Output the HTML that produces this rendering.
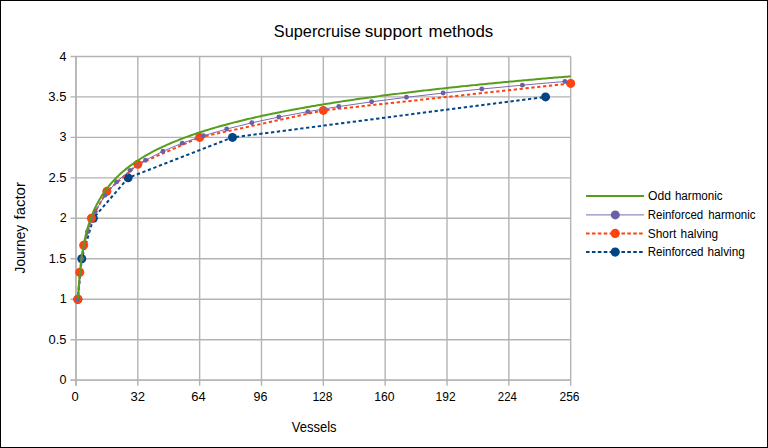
<!DOCTYPE html>
<html><head><meta charset="utf-8"><title>Supercruise support methods</title>
<style>
html,body{margin:0;padding:0;background:#fff;}
.wrap{position:relative;width:768px;height:448px;overflow:hidden;background:#fff;}
svg{position:absolute;left:0;top:0;display:block;}
.frame{position:absolute;left:0;top:0;width:766px;height:446px;border:1px solid #000;}
</style></head><body>
<div class="wrap">
<svg width="768" height="448" viewBox="0 0 768 448">
<g stroke="#b3b3b3" stroke-width="1.4" fill="none"><line x1="70.5" y1="380.14" x2="570.68" y2="380.14"/><line x1="70.5" y1="339.68" x2="570.68" y2="339.68"/><line x1="70.5" y1="299.22" x2="570.68" y2="299.22"/><line x1="70.5" y1="258.76" x2="570.68" y2="258.76"/><line x1="70.5" y1="218.3" x2="570.68" y2="218.3"/><line x1="70.5" y1="177.84" x2="570.68" y2="177.84"/><line x1="70.5" y1="137.38" x2="570.68" y2="137.38"/><line x1="70.5" y1="96.92" x2="570.68" y2="96.92"/><line x1="70.5" y1="56.46" x2="570.68" y2="56.46"/><line x1="75.96" y1="56.46" x2="75.96" y2="385.7"/><line x1="137.8" y1="56.46" x2="137.8" y2="385.7"/><line x1="199.64" y1="56.46" x2="199.64" y2="385.7"/><line x1="261.48" y1="56.46" x2="261.48" y2="385.7"/><line x1="323.32" y1="56.46" x2="323.32" y2="385.7"/><line x1="385.16" y1="56.46" x2="385.16" y2="385.7"/><line x1="447" y1="56.46" x2="447" y2="385.7"/><line x1="508.84" y1="56.46" x2="508.84" y2="385.7"/><line x1="570.68" y1="56.46" x2="570.68" y2="385.7"/><line x1="75.96" y1="56.46" x2="75.96" y2="385.7"/><line x1="70.5" y1="380.14" x2="570.68" y2="380.14"/></g>
<g stroke="#004586" stroke-width="2" stroke-dasharray="3.3 2.59"><line x1="77.89" y1="299.22" x2="81.76" y2="258.76" stroke-dashoffset="2.69"/><line x1="81.76" y1="258.76" x2="93.35" y2="218.3" stroke-dashoffset="2.65"/><line x1="93.35" y1="218.3" x2="128.14" y2="177.84" stroke-dashoffset="3.03"/><line x1="128.14" y1="177.84" x2="232.49" y2="137.38" stroke-dashoffset="2.41"/><line x1="232.49" y1="137.38" x2="545.56" y2="96.92" stroke-dashoffset="2.43"/></g>
<g fill="#004586"><circle cx="77.89" cy="299.22" r="4.5"/><circle cx="81.76" cy="258.76" r="4.5"/><circle cx="93.35" cy="218.3" r="4.5"/><circle cx="128.14" cy="177.84" r="4.5"/><circle cx="232.49" cy="137.38" r="4.5"/><circle cx="545.56" cy="96.92" r="4.5"/></g>
<polyline points="77.89,299.22 79.82,272.25 83.69,245.27 91.42,218.3 106.88,191.33 137.8,164.35 199.64,137.38 323.32,110.41 570.68,83.43" fill="none" stroke="#ff420e" stroke-width="2" stroke-dasharray="3.3 2.59" stroke-dashoffset="1.79"/>
<g fill="#ff420e"><circle cx="77.89" cy="299.22" r="4.5"/><circle cx="79.82" cy="272.25" r="4.5"/><circle cx="83.69" cy="245.27" r="4.5"/><circle cx="91.42" cy="218.3" r="4.5"/><circle cx="106.88" cy="191.33" r="4.5"/><circle cx="137.8" cy="164.35" r="4.5"/><circle cx="199.64" cy="137.38" r="4.5"/><circle cx="323.32" cy="110.41" r="4.5"/><circle cx="570.68" cy="83.43" r="4.5"/></g>
<polyline points="77.89,299.22 81.76,258.76 87.55,231.79 95.28,211.56 104.95,195.37 116.54,181.89 130.07,170.33 145.53,160.21 162.92,151.22 182.25,143.13 203.5,135.77 226.69,129.03 251.82,122.8 278.87,117.02 307.86,111.63 338.78,106.57 371.63,101.81 406.42,97.32 443.13,93.06 481.79,89.01 522.37,85.16 564.88,81.48" fill="none" stroke="#7b6db0" stroke-width="1"/>
<g fill="#6c5fa8"><circle cx="77.89" cy="299.22" r="2.45"/><circle cx="81.76" cy="258.76" r="2.45"/><circle cx="87.55" cy="231.79" r="2.45"/><circle cx="95.28" cy="211.56" r="2.45"/><circle cx="104.95" cy="195.37" r="2.45"/><circle cx="116.54" cy="181.89" r="2.45"/><circle cx="130.07" cy="170.33" r="2.45"/><circle cx="145.53" cy="160.21" r="2.45"/><circle cx="162.92" cy="151.22" r="2.45"/><circle cx="182.25" cy="143.13" r="2.45"/><circle cx="203.5" cy="135.77" r="2.45"/><circle cx="226.69" cy="129.03" r="2.45"/><circle cx="251.82" cy="122.8" r="2.45"/><circle cx="278.87" cy="117.02" r="2.45"/><circle cx="307.86" cy="111.63" r="2.45"/><circle cx="338.78" cy="106.57" r="2.45"/><circle cx="371.63" cy="101.81" r="2.45"/><circle cx="406.42" cy="97.32" r="2.45"/><circle cx="443.13" cy="93.06" r="2.45"/><circle cx="481.79" cy="89.01" r="2.45"/><circle cx="522.37" cy="85.16" r="2.45"/><circle cx="564.88" cy="81.48" r="2.45"/></g>
<polyline points="77.89,299.22 79.82,272.25 81.76,256.06 83.69,244.5 85.62,235.51 87.55,228.16 89.49,221.93 91.42,216.54 93.35,211.78 95.28,207.52 97.22,203.66 99.15,200.15 101.08,196.91 103.01,193.91 104.95,191.12 106.88,188.51 108.81,186.06 110.75,183.75 112.68,181.56 114.61,179.48 116.54,177.51 118.47,175.63 120.41,173.83 122.34,172.11 124.27,170.46 126.2,168.87 128.14,167.34 130.07,165.87 132,164.45 133.94,163.08 135.87,161.76 137.8,160.47 139.73,159.23 141.66,158.02 143.6,156.85 145.53,155.71 147.46,154.6 149.39,153.52 151.33,152.47 153.26,151.44 155.19,150.44 157.12,149.47 159.06,148.52 160.99,147.59 162.92,146.68 164.86,145.79 166.79,144.92 168.72,144.07 170.65,143.23 172.58,142.42 174.52,141.61 176.45,140.83 178.38,140.06 180.31,139.3 182.25,138.56 184.18,137.83 186.11,137.11 188.05,136.41 189.98,135.72 191.91,135.04 193.84,134.37 195.78,133.71 197.71,133.06 199.64,132.43 201.57,131.8 203.5,131.18 205.44,130.57 207.37,129.97 209.3,129.38 211.24,128.8 213.17,128.23 215.1,127.66 217.03,127.1 218.96,126.55 220.9,126.01 222.83,125.47 224.76,124.95 226.69,124.42 228.63,123.91 230.56,123.4 232.49,122.9 234.43,122.4 236.36,121.91 238.29,121.43 240.22,120.95 242.16,120.47 244.09,120.01 246.02,119.54 247.95,119.09 249.88,118.63 251.82,118.19 253.75,117.74 255.68,117.31 257.62,116.87 259.55,116.45 261.48,116.02 263.41,115.6 265.35,115.19 267.28,114.78 269.21,114.37 271.14,113.97 273.07,113.57 275.01,113.18 276.94,112.78 278.87,112.4 280.81,112.01 282.74,111.63 284.67,111.26 286.6,110.88 288.54,110.51 290.47,110.15 292.4,109.79 294.33,109.43 296.26,109.07 298.2,108.72 300.13,108.37 302.06,108.02 304,107.67 305.93,107.33 307.86,106.99 309.79,106.66 311.73,106.33 313.66,106 315.59,105.67 317.52,105.34 319.45,105.02 321.39,104.7 323.32,104.38 325.25,104.07 327.19,103.76 329.12,103.45 331.05,103.14 332.98,102.83 334.92,102.53 336.85,102.23 338.78,101.93 340.71,101.63 342.64,101.34 344.58,101.05 346.51,100.76 348.44,100.47 350.38,100.18 352.31,99.9 354.24,99.62 356.17,99.34 358.11,99.06 360.04,98.78 361.97,98.51 363.9,98.24 365.83,97.97 367.77,97.7 369.7,97.43 371.63,97.16 373.56,96.9 375.5,96.64 377.43,96.38 379.36,96.12 381.3,95.86 383.23,95.61 385.16,95.35 387.09,95.1 389.02,94.85 390.96,94.6 392.89,94.36 394.82,94.11 396.75,93.87 398.69,93.62 400.62,93.38 402.55,93.14 404.49,92.9 406.42,92.66 408.35,92.43 410.28,92.19 412.21,91.96 414.15,91.73 416.08,91.5 418.01,91.27 419.94,91.04 421.88,90.81 423.81,90.59 425.74,90.37 427.68,90.14 429.61,89.92 431.54,89.7 433.47,89.48 435.4,89.26 437.34,89.05 439.27,88.83 441.2,88.62 443.13,88.4 445.07,88.19 447,87.98 448.93,87.77 450.87,87.56 452.8,87.35 454.73,87.14 456.66,86.94 458.6,86.73 460.53,86.53 462.46,86.33 464.39,86.12 466.32,85.92 468.26,85.72 470.19,85.53 472.12,85.33 474.06,85.13 475.99,84.93 477.92,84.74 479.85,84.55 481.79,84.35 483.72,84.16 485.65,83.97 487.58,83.78 489.51,83.59 491.45,83.4 493.38,83.21 495.31,83.03 497.25,82.84 499.18,82.65 501.11,82.47 503.04,82.29 504.98,82.1 506.91,81.92 508.84,81.74 510.77,81.56 512.71,81.38 514.64,81.2 516.57,81.03 518.5,80.85 520.44,80.67 522.37,80.5 524.3,80.32 526.23,80.15 528.17,79.97 530.1,79.8 532.03,79.63 533.96,79.46 535.89,79.29 537.83,79.12 539.76,78.95 541.69,78.78 543.62,78.61 545.56,78.45 547.49,78.28 549.42,78.12 551.36,77.95 553.29,77.79 555.22,77.62 557.15,77.46 559.09,77.3 561.02,77.14 562.95,76.98 564.88,76.82 566.82,76.66 568.75,76.5 570.68,76.34" fill="none" stroke="#579d1c" stroke-width="2" stroke-linejoin="round"/>
<g fill="#000" font-family="'Liberation Sans', 'DejaVu Sans', sans-serif"><text x="273.85" y="36.75" font-size="17" textLength="86.92" lengthAdjust="spacingAndGlyphs">Supercruise</text><text x="364.72" y="36.75" font-size="17" textLength="57.29" lengthAdjust="spacingAndGlyphs">support</text><text x="428.59" y="36.75" font-size="17" textLength="64.73" lengthAdjust="spacingAndGlyphs">methods</text><text x="59.54" y="384" font-size="12.5" textLength="6.95" lengthAdjust="spacingAndGlyphs">0</text><text x="48.59" y="344" font-size="12.5" textLength="18" lengthAdjust="spacingAndGlyphs">0.5</text><text x="59.66" y="303" font-size="12.5" textLength="6.95" lengthAdjust="spacingAndGlyphs">1</text><text x="48.68" y="263" font-size="12.5" textLength="17.76" lengthAdjust="spacingAndGlyphs">1.5</text><text x="59.67" y="222" font-size="12.5" textLength="6.95" lengthAdjust="spacingAndGlyphs">2</text><text x="48.45" y="182" font-size="12.5" textLength="18.15" lengthAdjust="spacingAndGlyphs">2.5</text><text x="59.6" y="141" font-size="12.5" textLength="6.95" lengthAdjust="spacingAndGlyphs">3</text><text x="48.35" y="101" font-size="12.5" textLength="18.2" lengthAdjust="spacingAndGlyphs">3.5</text><text x="59.41" y="61" font-size="12.5" textLength="6.95" lengthAdjust="spacingAndGlyphs">4</text><text x="71.49" y="400.8" font-size="12.5" textLength="7.21" lengthAdjust="spacingAndGlyphs">0</text><text x="130.5" y="400.8" font-size="12.5" textLength="14.56" lengthAdjust="spacingAndGlyphs">32</text><text x="191.34" y="400.8" font-size="12.5" textLength="14.44" lengthAdjust="spacingAndGlyphs">64</text><text x="253.61" y="400.8" font-size="12.5" textLength="13.94" lengthAdjust="spacingAndGlyphs">96</text><text x="312.38" y="400.8" font-size="12.5" textLength="20.25" lengthAdjust="spacingAndGlyphs">128</text><text x="374.18" y="400.8" font-size="12.5" textLength="20.31" lengthAdjust="spacingAndGlyphs">160</text><text x="435.59" y="400.8" font-size="12.5" textLength="20.02" lengthAdjust="spacingAndGlyphs">192</text><text x="497.83" y="400.8" font-size="12.5" textLength="19.11" lengthAdjust="spacingAndGlyphs">224</text><text x="559.5" y="400.8" font-size="12.5" textLength="20.03" lengthAdjust="spacingAndGlyphs">256</text><text x="291.79" y="431.8" font-size="15.5" textLength="44.75" lengthAdjust="spacingAndGlyphs">Vessels</text><g transform="translate(24.85 273.2) rotate(-90)"><text x="-0.22" y="0" font-size="15.5" textLength="48.48" lengthAdjust="spacingAndGlyphs">Journey</text><text x="53.79" y="0" font-size="15.5" textLength="37.26" lengthAdjust="spacingAndGlyphs">factor</text></g><text x="648.03" y="199.7" font-size="12" textLength="22.95" lengthAdjust="spacingAndGlyphs">Odd</text><text x="674.9" y="199.7" font-size="12" textLength="47.8" lengthAdjust="spacingAndGlyphs">harmonic</text><text x="647.76" y="218.7" font-size="12" textLength="55.47" lengthAdjust="spacingAndGlyphs">Reinforced</text><text x="708.21" y="218.7" font-size="12" textLength="47.34" lengthAdjust="spacingAndGlyphs">harmonic</text><text x="647.75" y="237.7" font-size="12" textLength="28.53" lengthAdjust="spacingAndGlyphs">Short</text><text x="680.58" y="237.7" font-size="12" textLength="37.58" lengthAdjust="spacingAndGlyphs">halving</text><text x="647.65" y="255.7" font-size="12" textLength="55.89" lengthAdjust="spacingAndGlyphs">Reinforced</text><text x="707.49" y="255.7" font-size="12" textLength="37.26" lengthAdjust="spacingAndGlyphs">halving</text></g>
<line x1="586" y1="195.95" x2="644.1" y2="195.95" stroke="#579d1c" stroke-width="2"/><line x1="586" y1="214.9" x2="644.1" y2="214.9" stroke="#7b6db0" stroke-width="1"/><circle cx="615.3" cy="214.9" r="4.5" fill="#6c5fa8"/><line x1="586" y1="233.4" x2="644.1" y2="233.4" stroke="#ff420e" stroke-width="2" stroke-dasharray="3.6 2.3"/><circle cx="615.2" cy="233.4" r="4.6" fill="#ff420e"/><line x1="586" y1="252.1" x2="644.1" y2="252.1" stroke="#004586" stroke-width="2" stroke-dasharray="3.6 2.3"/><circle cx="615.2" cy="252.1" r="4.6" fill="#004586"/>
</svg>
<div class="frame"></div>
</div>
</body></html>
